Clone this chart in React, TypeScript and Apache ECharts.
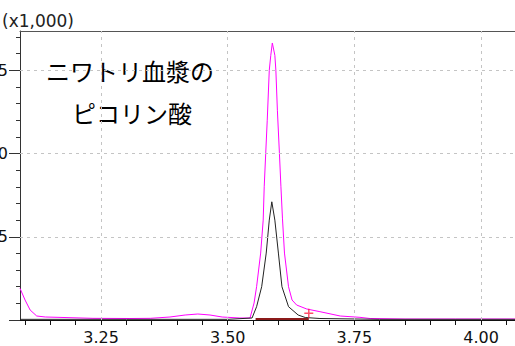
import React, { useEffect, useRef } from "react";
import * as echarts from "echarts";

// x: retention time (min), y: intensity (x1,000)
const magentaX = [3.090, 3.100, 3.110, 3.123, 3.140, 3.165, 3.234, 3.307, 3.347, 3.386, 3.416, 3.441, 3.465, 3.489, 3.524, 3.544, 3.552, 3.557, 3.565, 3.570, 3.572, 3.575, 3.578, 3.582, 3.585, 3.588, 3.593, 3.595, 3.598, 3.602, 3.605, 3.608, 3.612, 3.620, 3.627, 3.636, 3.656, 3.682, 3.722, 3.761, 3.781, 3.850, 3.950, 4.067];
const magentaY = [0.95, 0.60, 0.30, 0.12, 0.09, 0.08, 0.05, 0.045, 0.05, 0.09, 0.15, 0.18, 0.15, 0.09, 0.06, 0.06, 0.51, 1.0, 2.01, 3.0, 4.0, 5.01, 6.0, 7.5, 7.95, 8.32, 7.95, 7.5, 6.3, 5.01, 4.0, 3.06, 2.01, 1.0, 0.6, 0.45, 0.33, 0.25, 0.12, 0.08, 0.045, 0.03, 0.03, 0.03];

const blackX = [3.090, 3.300, 3.500, 3.548, 3.557, 3.567, 3.576, 3.582, 3.587, 3.593, 3.600, 3.607, 3.620, 3.639, 3.653, 3.682, 3.800, 4.067];
const blackY = [0.02, 0.02, 0.02, 0.06, 0.40, 1.0, 2.01, 3.0, 3.55, 3.0, 2.01, 1.0, 0.40, 0.15, 0.075, 0.045, 0.02, 0.02];

const baselineX = [3.555, 3.660];
const baselineY = [0.03, 0.03];

const markerX = [3.660];
const markerY = [0.2];

const xMin = 3.09;
const xMax = 4.067;
const yMin = 0;
const yMax = 8.68;

const xLabelValues = [3.25, 3.5, 3.75, 4.0];
const xTickValues = [3.10, 3.15, 3.20, 3.25, 3.30, 3.35, 3.40, 3.45, 3.50, 3.55, 3.60, 3.65, 3.70, 3.75, 3.80, 3.85, 3.90, 3.95, 4.00, 4.05];
const yLabelValues = [2.5, 5.0, 7.5];
const yMajorTicks = [0, 2.5, 5.0, 7.5];
const yMinorTicks = [0.5, 1.0, 1.5, 2.0, 3.0, 3.5, 4.0, 4.5, 5.5, 6.0, 6.5, 7.0, 8.0, 8.5];

const axisTitle = "(x1,000)";
const noteLines = ["ニワトリ血漿の", "ピコリン酸"];

const zip = (xs: number[], ys: number[]) => xs.map((x, i) => [x, ys[i]]);

export default function App() {
  const ref = useRef<HTMLDivElement>(null);
  useEffect(() => {
    if (!ref.current) return;
    const chart = echarts.init(ref.current, null, { renderer: "svg" });
    const axisColor = "#333";
    const font = "DejaVu Sans";
    chart.setOption({
      animation: false,
      backgroundColor: "#fff",
      title: {
        text: axisTitle,
        left: 2,
        top: 12,
        padding: 0,
        textStyle: { fontSize: 17, fontWeight: "normal", fontFamily: font, color: "#222" },
      },
      grid: { left: 20, right: 0, top: 31, bottom: 26, containLabel: false, outerBoundsMode: "none" },
      xAxis: [
        {
          type: "value",
          position: "bottom",
          min: xMin,
          max: xMax,
          axisLine: { show: true, onZero: false, lineStyle: { color: "#111", width: 1 } },
          axisTick: { show: true, customValues: xTickValues, length: 5, lineStyle: { color: "#111" } },
          axisLabel: {
            show: true,
            customValues: xLabelValues,
            formatter: (v: number) => v.toFixed(2),
            fontSize: 16,
            fontFamily: font,
            color: "#111",
            margin: 9,
          },
          splitLine: { show: false },
        },
        {
          type: "value",
          position: "top",
          min: xMin,
          max: xMax,
          axisLine: { show: true, onZero: false, lineStyle: { color: "#555", width: 1 } },
          axisTick: { show: false },
          axisLabel: { show: false },
          splitLine: { show: false },
        },
      ],
      yAxis: [
        {
          type: "value",
          position: "left",
          min: yMin,
          max: yMax,
          axisLine: { show: true, onZero: false, lineStyle: { color: axisColor, width: 1 } },
          axisTick: { show: true, customValues: yMajorTicks, length: 11, lineStyle: { color: axisColor } },
          axisLabel: {
            show: true,
            customValues: yLabelValues,
            formatter: (v: number) => v.toFixed(1),
            fontSize: 16,
            fontFamily: font,
            color: "#111",
            margin: 12,
          },
          splitLine: { show: false },
        },
        {
          type: "value",
          position: "left",
          min: yMin,
          max: yMax,
          axisLine: { show: false },
          axisTick: { show: true, customValues: yMinorTicks, length: 4, lineStyle: { color: axisColor } },
          axisLabel: { show: false },
          splitLine: { show: false },
        },
      ],
      series: [
        {
          name: "grid",
          type: "line",
          z: 1,
          data: [[xMin, yMin]],
          showSymbol: false,
          lineStyle: { opacity: 0 },
          silent: true,
          markLine: {
            silent: true,
            symbol: ["none", "none"],
            label: { show: false },
            lineStyle: { type: [3, 4], color: "#c4c4c4", width: 1 },
            data: [
              ...xLabelValues.map((v) => ({ xAxis: v })),
              ...yLabelValues.map((v) => ({ yAxis: v })),
            ],
          },
        },
        {
          name: "magenta",
          type: "line",
          z: 3,
          data: zip(magentaX, magentaY),
          showSymbol: false,
          lineStyle: { color: "#f0f", width: 1 },
        },
        {
          name: "black",
          type: "line",
          z: 4,
          data: zip(blackX, blackY),
          showSymbol: false,
          lineStyle: { color: "#222", width: 1 },
        },
        {
          name: "baseline",
          type: "line",
          z: 5,
          data: zip(baselineX, baselineY),
          showSymbol: false,
          lineStyle: { color: "#8b1a1a", width: 2 },
        },
        {
          name: "marker",
          type: "scatter",
          z: 6,
          data: zip(markerX, markerY),
          symbol: "path://M-1,0L1,0M0,-1L0,1",
          symbolSize: 9,
          itemStyle: { color: "none", borderColor: "#ff2244", borderWidth: 1.5 },
        },
      ],
      graphic: [
        {
          type: "group",
          z: 10,
          children: [
            {
              type: "rect",
              shape: { x: 21, y: 32, width: 200, height: 108 },
              style: { fill: "#fff" },
            },
            {
              type: "text",
              x: 130,
              y: 70,
              style: {
                text: noteLines[0],
                fontSize: 24,
                fontFamily: "Noto Sans CJK JP",
                fill: "#000",
                align: "center",
                verticalAlign: "middle",
              },
            },
            {
              type: "text",
              x: 132,
              y: 112,
              style: {
                text: noteLines[1],
                fontSize: 24,
                fontFamily: "Noto Sans CJK JP",
                fill: "#000",
                align: "center",
                verticalAlign: "middle",
              },
            },
          ],
        },
      ],
    });
    return () => chart.dispose();
  }, []);
  return <div ref={ref} style={{ width: 515, height: 346, position: "absolute", left: 0, top: 0 }} />;
}
